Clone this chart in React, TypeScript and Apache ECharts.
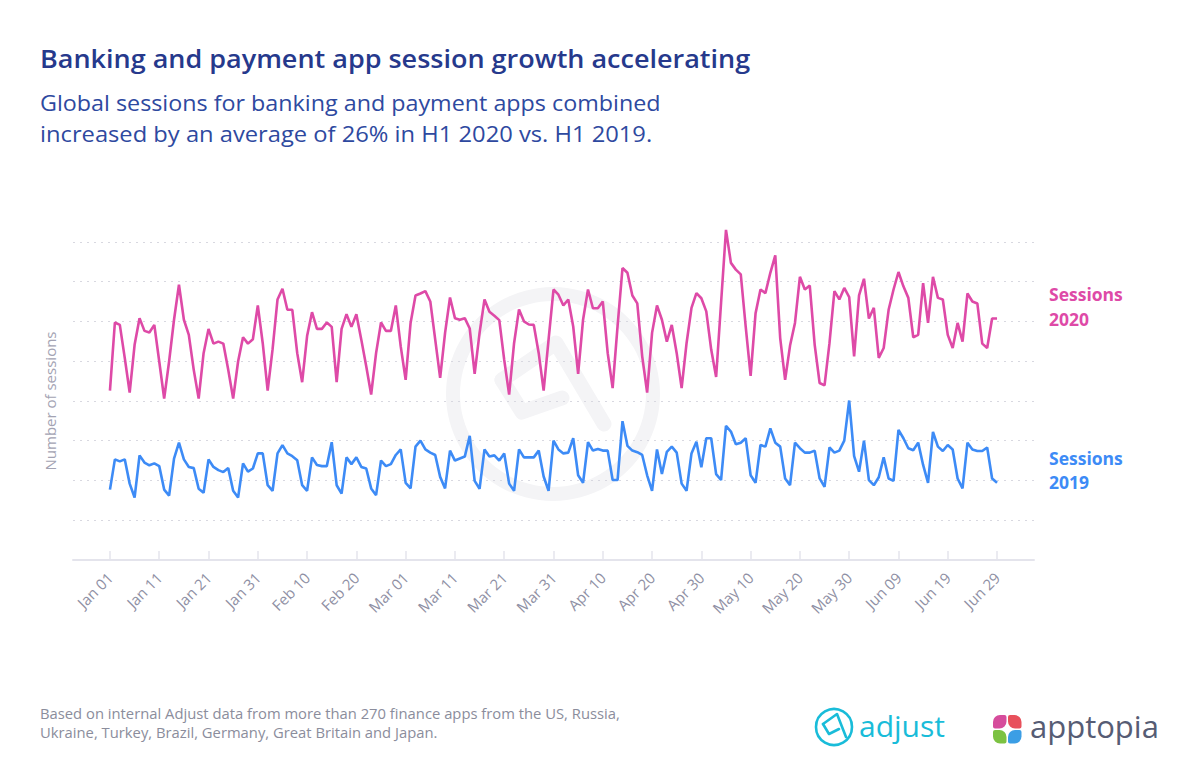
import React, { useEffect, useRef } from "react";
import * as echarts from "echarts";

const sessions2020 = [
  42.6, 59.7, 59.1, 50.8, 42.1, 54.1, 60.8, 57.6, 57.2, 59.1,
  49.9, 40.6, 49.9, 60.4, 69.2, 60.4, 56.6, 47.8, 40.6, 52.0,
  58.1, 54.4, 54.9, 54.4, 47.8, 40.6, 49.9, 56.0, 54.4, 55.5,
  64.0, 54.5, 42.6, 53.0, 65.5, 68.2, 62.9, 62.9, 52.0, 44.7,
  56.3, 62.3, 58.1, 58.1, 59.7, 58.6, 44.7, 58.1, 61.8, 58.6,
  61.8, 55.4, 48.7, 41.6, 52.0, 59.7, 57.6, 57.6, 64.0, 53.7,
  45.3, 59.6, 66.5, 67.0, 67.6, 65.0, 55.4, 45.8, 57.1, 66.0,
  60.8, 60.4, 60.8, 58.2, 46.8, 57.1, 65.5, 62.4, 61.4, 60.3,
  50.3, 41.6, 54.5, 63.0, 60.0, 59.2, 59.1, 52.0, 42.6, 55.4,
  68.0, 66.7, 64.0, 65.5, 58.7, 46.8, 60.4, 68.0, 63.3, 63.3,
  65.0, 52.0, 43.2, 58.8, 73.4, 72.2, 66.5, 64.5, 51.2, 42.1,
  57.1, 64.0, 60.4, 54.9, 59.1, 52.0, 43.2, 54.5, 63.4, 67.1,
  65.8, 62.5, 52.9, 46.0, 64.6, 83.0, 74.7, 73.0, 71.8, 58.7,
  46.3, 62.0, 68.0, 67.1, 72.2, 76.6, 55.8, 45.3, 53.9, 59.6,
  71.2, 68.0, 69.0, 54.1, 44.5, 43.9, 54.5, 67.6, 65.5, 68.4,
  66.1, 51.2, 66.5, 70.7, 60.7, 63.4, 50.8, 53.3, 62.9, 68.0,
  72.4, 68.8, 65.9, 56.0, 56.6, 69.6, 59.6, 71.2, 65.9, 65.5,
  56.6, 53.3, 59.6, 54.9, 67.0, 65.0, 64.5, 54.4, 53.3, 60.7,
  60.7,
];

const sessions2019 = [
  17.7, 25.3, 24.8, 25.3, 19.2, 15.7, 26.3, 24.5, 23.8, 24.3,
  23.6, 17.7, 16.2, 25.5, 29.5, 25.3, 23.4, 23.1, 17.9, 16.9,
  25.3, 23.4, 22.6, 22.1, 23.1, 17.4, 15.7, 24.3, 22.2, 23.0,
  26.8, 26.8, 18.8, 17.4, 26.8, 28.9, 26.8, 26.1, 25.1, 18.8,
  17.4, 25.8, 23.9, 23.6, 23.6, 29.6, 18.8, 16.7, 25.8, 24.1,
  25.8, 23.4, 23.0, 18.0, 16.3, 25.0, 23.6, 24.1, 26.4, 27.8,
  19.4, 18.0, 28.5, 30.0, 27.8, 27.0, 26.4, 20.9, 18.0, 27.5,
  25.0, 25.5, 26.0, 31.2, 19.9, 17.9, 27.8, 26.0, 26.3, 25.0,
  26.8, 19.2, 17.4, 27.8, 25.8, 25.8, 25.8, 27.5, 21.0, 17.4,
  30.0, 27.8, 26.8, 27.0, 30.6, 21.3, 19.4, 29.6, 27.5, 27.9,
  27.5, 27.5, 20.1, 20.1, 34.9, 28.7, 27.5, 27.1, 26.4, 21.3,
  17.4, 27.8, 21.6, 27.2, 28.5, 27.0, 19.2, 17.4, 26.8, 29.7,
  23.3, 30.6, 30.6, 21.6, 20.1, 33.7, 32.3, 29.1, 29.5, 30.6,
  21.3, 19.4, 28.9, 28.5, 33.1, 29.5, 28.5, 20.5, 18.8, 29.5,
  28.1, 27.0, 27.0, 27.5, 20.5, 18.4, 28.3, 27.0, 27.5, 30.0,
  40.1, 26.1, 22.2, 30.0, 20.1, 18.8, 20.8, 25.8, 20.5, 19.9,
  32.7, 30.6, 28.1, 27.6, 29.5, 23.9, 19.4, 32.2, 28.5, 27.4,
  28.9, 27.8, 20.5, 18.0, 29.5, 27.8, 27.4, 27.4, 28.3, 20.5,
  19.4,
];

const tickDays = [0, 10, 20, 30, 40, 50, 60, 70, 80, 90, 100, 110, 120, 130, 140, 150, 160, 170, 180];
const tickLabels = [
  "Jan 01", "Jan 11", "Jan 21", "Jan 31", "Feb 10", "Feb 20", "Mar 01", "Mar 11", "Mar 21",
  "Mar 31", "Apr 10", "Apr 20", "Apr 30", "May 10", "May 20", "May 30", "Jun 09", "Jun 19", "Jun 29",
];

const titleText = "Banking and payment app session growth accelerating";
const subtitleLines = [
  "Global sessions for banking and payment apps combined",
  "increased by an average of 26% in H1 2020 vs. H1 2019.",
];
const footnoteLines = [
  "Based on internal Adjust data from more than 270 finance apps from the US, Russia,",
  "Ukraine, Turkey, Brazil, Germany, Great Britain and Japan.",
];

const PINK = "#DE4AA7";
const BLUE = "#3D8BF6";
const FONT = '"Open Sans", "Noto Sans", sans-serif';

export default function App() {
  const ref = useRef<HTMLDivElement>(null);

  useEffect(() => {
    if (!ref.current) return;
    const chart = echarts.init(ref.current, null, { renderer: "svg" });

    const wm = "#F4F4F6";
    const graphic: any[] = [
      // watermark
      { type: "ring", z: -10, shape: { cx: 553, cy: 394, r: 107, r0: 93 }, style: { fill: wm } },
      {
        type: "polyline", z: -10,
        shape: { points: [[502, 380], [556, 343], [604, 424]] },
        style: { stroke: wm, lineWidth: 15, fill: null, lineJoin: "round", lineCap: "round" },
      },
      {
        type: "polyline", z: -10,
        shape: { points: [[502, 380], [522, 412], [562, 398]] },
        style: { stroke: wm, lineWidth: 15, fill: null, lineJoin: "round", lineCap: "round" },
      },
      // title
      {
        type: "text", x: 40, y: 58, scaleX: 1.08,
        style: { text: titleText, fill: "#26398C", fontSize: 25, fontWeight: 600, fontFamily: FONT, textVerticalAlign: "middle" },
      },
      {
        type: "text", x: 40, y: 102, scaleX: 1.11,
        style: { text: subtitleLines[0], fill: "#2E499F", fontSize: 21, fontWeight: 400, fontFamily: FONT, textVerticalAlign: "middle" },
      },
      {
        type: "text", x: 40, y: 134, scaleX: 1.13,
        style: { text: subtitleLines[1], fill: "#2E499F", fontSize: 21, fontWeight: 400, fontFamily: FONT, textVerticalAlign: "middle" },
      },
      // y axis name
      {
        type: "text", x: 50, y: 401, rotation: Math.PI / 2,
        style: { text: "Number of sessions", fill: "#A3A3B3", fontSize: 15, fontFamily: FONT, textAlign: "center", textVerticalAlign: "middle" },
      },
      // series labels
      { type: "text", x: 1049, y: 294, style: { text: "Sessions", fill: PINK, fontSize: 17.5, fontWeight: 700, fontFamily: FONT, textVerticalAlign: "middle" } },
      { type: "text", x: 1049, y: 319, style: { text: "2020", fill: PINK, fontSize: 17.5, fontWeight: 700, fontFamily: FONT, textVerticalAlign: "middle" } },
      { type: "text", x: 1049, y: 458, style: { text: "Sessions", fill: BLUE, fontSize: 17.5, fontWeight: 700, fontFamily: FONT, textVerticalAlign: "middle" } },
      { type: "text", x: 1049, y: 482, style: { text: "2019", fill: BLUE, fontSize: 17.5, fontWeight: 700, fontFamily: FONT, textVerticalAlign: "middle" } },
      // footnote
      { type: "text", x: 40, y: 714, scaleX: 1.057, style: { text: footnoteLines[0], fill: "#8B8D9C", fontSize: 14, fontFamily: FONT, textVerticalAlign: "middle" } },
      { type: "text", x: 40, y: 733, scaleX: 1.057, style: { text: footnoteLines[1], fill: "#8B8D9C", fontSize: 14, fontFamily: FONT, textVerticalAlign: "middle" } },
      // adjust logo
      { type: "circle", shape: { cx: 834, cy: 727, r: 18 }, style: { fill: "none", stroke: "#19BCD9", lineWidth: 2.6 } },
      {
        type: "polyline",
        shape: { points: [[823, 724], [837, 714], [846, 737]] },
        style: { stroke: "#19BCD9", lineWidth: 2.6, fill: null, lineJoin: "round", lineCap: "round" },
      },
      {
        type: "polyline",
        shape: { points: [[823, 724], [829, 734], [839, 729]] },
        style: { stroke: "#19BCD9", lineWidth: 2.6, fill: null, lineJoin: "round", lineCap: "round" },
      },
      { type: "text", x: 859, y: 725, style: { text: "adjust", fill: "#19BCD9", fontSize: 30, fontFamily: FONT, fontWeight: 400, textVerticalAlign: "middle" } },
      // apptopia logo
      { type: "rect", shape: { x: 993, y: 715, width: 13.5, height: 13.5, r: [7, 2, 7, 2] }, style: { fill: "#D64C9C" } },
      { type: "rect", shape: { x: 1008, y: 715, width: 13.5, height: 13.5, r: [2, 7, 2, 7] }, style: { fill: "#E8505B" } },
      { type: "rect", shape: { x: 993, y: 730, width: 13.5, height: 13.5, r: [2, 7, 2, 7] }, style: { fill: "#7CC242" } },
      { type: "rect", shape: { x: 1008, y: 730, width: 13.5, height: 13.5, r: [7, 2, 7, 2] }, style: { fill: "#3B9EE5" } },
      { type: "text", x: 1030, y: 726, style: { text: "apptopia", fill: "#565C74", fontSize: 31, fontFamily: FONT, fontWeight: 400, textVerticalAlign: "middle" } },
    ];

    chart.setOption({
      animation: false,
      backgroundColor: "#ffffff",
      textStyle: { fontFamily: FONT },
      grid: { left: 73, right: 166, top: 202, bottom: 218, containLabel: false },
      xAxis: {
        type: "value",
        min: -7.5,
        max: 187.5,
        splitLine: { show: false },
        axisLine: { show: true, lineStyle: { color: "#E4E4EC", width: 2 } },
        axisTick: {
          show: true,
          inside: true,
          length: 9,
          customValues: tickDays,
          lineStyle: { color: "#E4E4EC", width: 1.5 },
        },
        axisLabel: {
          show: true,
          customValues: tickDays,
          rotate: 45,
          margin: 15,
          color: "#8F90A4",
          fontSize: 15,
          fontFamily: FONT,
          formatter: (v: number) => {
            const idx = tickDays.indexOf(Math.round(v));
            return idx >= 0 ? tickLabels[idx] : "";
          },
        },
      },
      yAxis: {
        type: "value",
        min: 0,
        max: 90,
        interval: 10,
        axisLine: { show: false },
        axisTick: { show: false },
        axisLabel: { show: false },
        splitLine: {
          show: true,
          showMinLine: false,
          showMaxLine: false,
          lineStyle: { color: "#D8D8E0", type: [2, 5], width: 1 },
        },
      },
      graphic,
      series: [
        {
          name: "Sessions 2020",
          type: "line",
          data: sessions2020.map((v, i) => [i, v]),
          showSymbol: false,
          symbol: "none",
          lineStyle: { color: PINK, width: 2.6 },
          itemStyle: { color: PINK },
          z: 3,
        },
        {
          name: "Sessions 2019",
          type: "line",
          data: sessions2019.map((v, i) => [i, v]),
          showSymbol: false,
          symbol: "none",
          lineStyle: { color: BLUE, width: 2.6 },
          itemStyle: { color: BLUE },
          z: 3,
        },
      ],
    });

    return () => chart.dispose();
  }, []);

  return (
    <div
      ref={ref}
      style={{ position: "fixed", left: 0, top: 0, width: 1200, height: 778, background: "#fff" }}
    />
  );
}
